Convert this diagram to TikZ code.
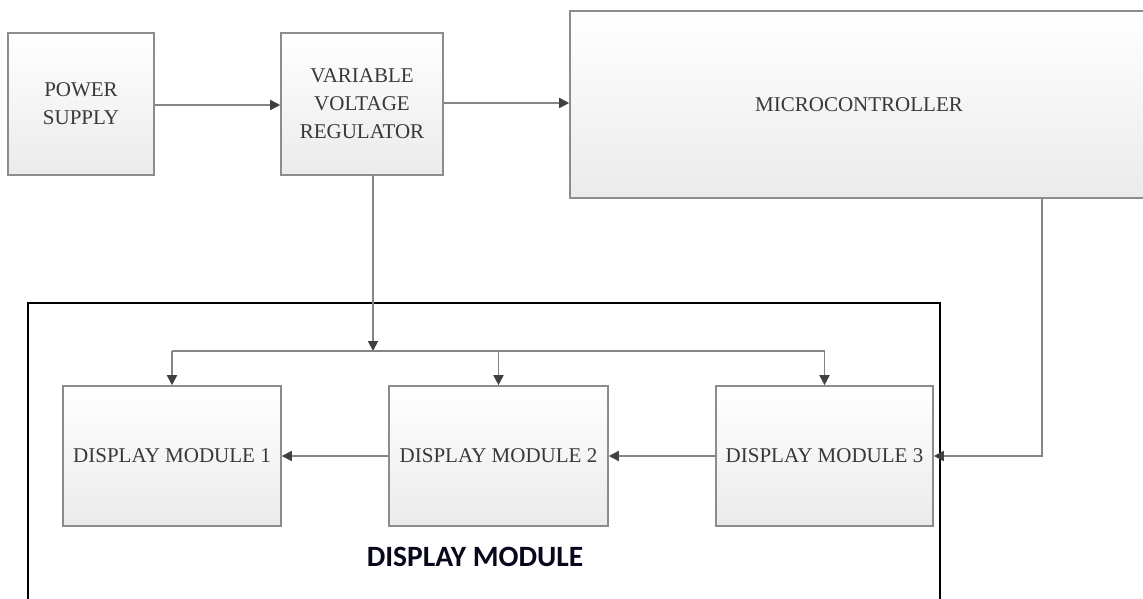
\documentclass[tikz,border=0pt]{standalone}
\usepackage{fontspec}
\setmainfont{Liberation Serif}
\newfontfamily\lblfont{Carlito}
\usetikzlibrary{arrows.meta}
\definecolor{lbl}{RGB}{8,8,28}
\tikzset{
  blk/.style={draw=black!45, line width=1.6pt, top color=white, bottom color=black!8,
    text=black!78, inner sep=2pt, align=center,
    font=\fontsize{21}{28}\selectfont},
  conn/.style={draw=black!48, line width=1.7pt,
    -{Triangle[length=10pt,width=10pt,color=black!75]}},
  wire/.style={draw=black!48, line width=1.7pt},
  frame/.style={draw=black, line width=1.6pt, fill=none}
}
\begin{document}
\begin{tikzpicture}[x=1pt,y=-1pt]
\useasboundingbox (0,0) rectangle (1143,599);
\begin{scope}
\clip (0,0) rectangle (1143,599);
\node[frame, minimum width=912pt, minimum height=317pt] (frm) at (484,461.5) {};
\node[blk, minimum width=146pt, minimum height=142pt] (ps) at (81,104) {POWER\\SUPPLY};
\node[blk, minimum width=162pt, minimum height=142pt] (vvr) at (362,104) {VARIABLE\\VOLTAGE\\REGULATOR};
\node[blk, minimum width=578pt, minimum height=187pt] (mc) at (859,104.5) {MICROCONTROLLER};
\node[blk, minimum width=218pt, minimum height=140pt] (dm1) at (172,456) {DISPLAY MODULE 1};
\node[blk, minimum width=219pt, minimum height=140pt] (dm2) at (498.5,456) {DISPLAY MODULE 2};
\node[blk, minimum width=217pt, minimum height=140pt] (dm3) at (824.5,456) {DISPLAY MODULE 3};
\node[font=\lblfont\bfseries\fontsize{29.5}{32}\selectfont, text=lbl] (lab) at (475,557) {DISPLAY MODULE};
\coordinate (vtop) at (373,175);
\coordinate (junc) at (373,351);
\coordinate (busl) at (172,351);
\coordinate (busr) at (824.5,351);
\coordinate (mcout) at (1042,198);
\draw[conn] (ps.east |- 0,105) -- (vvr.west |- 0,105);
\draw[conn] (vvr.east |- 0,103) -- (mc.west |- 0,103);
\draw[conn] (vtop) -- (junc);
\draw[wire] (busl) -- (busr);
\draw[conn] (busl) -- (dm1.north);
\draw[conn] (dm2.north |- junc) -- (dm2.north);
\draw[conn] (busr) -- (dm3.north);
\draw[conn] (mcout) |- (dm3.east);
\draw[conn] (dm3.west) -- (dm2.east);
\draw[conn] (dm2.west) -- (dm1.east);
\end{scope}
\end{tikzpicture}
\end{document}
